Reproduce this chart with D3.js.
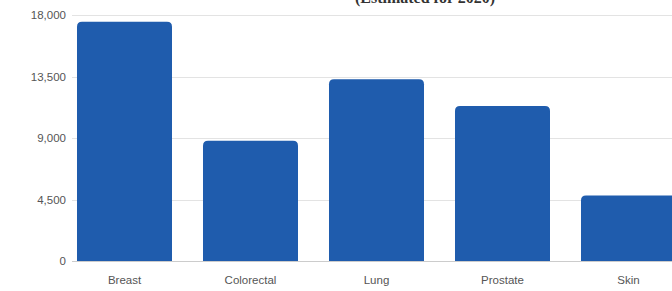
<!DOCTYPE html>
<html>
<head>
<meta charset="utf-8">
<script src="https://cdn.jsdelivr.net/npm/d3@7"></script>
<style>
body { margin: 0; background: #fff; overflow: hidden; }
text { font-family: "Liberation Sans", Arial, sans-serif; }
</style>
</head>
<body>
<script>
var categories = ["Breast", "Colorectal", "Lung", "Prostate", "Skin"];
var values = [17500, 8800, 13300, 11350, 4800];
var yTicks = [0, 4500, 9000, 13500, 18000];
var title = "(Estimated for 2020)";

var width = 672, height = 291;

var svg = d3.select("body").append("svg")
	.attr("width", width)
	.attr("height", height);

var x = d3.scaleBand()
	.domain(categories)
	.range([61.5, 691.5])
	.paddingInner(0.246)
	.paddingOuter(0.123);

var y = d3.scaleLinear()
	.domain([0, 18000])
	.range([261, 15]);

// titolo tagliato in alto, come nell'originale
svg.append("text")
	.attr("x", 425)
	.attr("y", 3)
	.attr("text-anchor", "middle")
	.attr("font-size", 16)
	.attr("font-weight", "bold")
	.style("font-family", "Liberation Serif, serif")
	.attr("fill", "#333")
	.text(title);

// griglia
svg.append("g")
	.selectAll("line")
	.data(yTicks)
	.enter()
	.append("line")
	.attr("x1", 72)
	.attr("x2", width)
	.attr("y1", function (d) { return Math.round(y(d)) + 0.5; })
	.attr("y2", function (d) { return Math.round(y(d)) + 0.5; })
	.attr("stroke", function (d) { return d === 0 ? "#ccc" : "#e3e3e3"; })
	.attr("stroke-width", 1);

// asse y
var yAxis = svg.append("g")
	.attr("transform", "translate(66,0)")
	.call(d3.axisLeft(y).tickValues(yTicks).tickSize(0).tickPadding(0).tickFormat(d3.format(",")));
yAxis.select(".domain").remove();
yAxis.selectAll("text")
	.attr("font-size", 11.5)
	.attr("fill", "#555");

// barre con angoli arrotondati in alto
function barPath(d, i) {
	var x0 = x(categories[i]), w = x.bandwidth();
	var y0 = y(d), y1 = y(0), r = 5;
	return "M" + x0 + "," + y1 +
		"V" + (y0 + r) +
		"Q" + x0 + "," + y0 + " " + (x0 + r) + "," + y0 +
		"H" + (x0 + w - r) +
		"Q" + (x0 + w) + "," + y0 + " " + (x0 + w) + "," + (y0 + r) +
		"V" + y1 + "Z";
}

svg.append("g")
	.selectAll("path")
	.data(values)
	.enter()
	.append("path")
	.attr("d", barPath)
	.attr("fill", "#1f5cad");

// asse x
var xAxis = svg.append("g")
	.attr("transform", "translate(0,261)")
	.call(d3.axisBottom(x).tickSize(0).tickPadding(15));
xAxis.select(".domain").remove();
xAxis.selectAll("text")
	.attr("font-size", 11.5)
	.attr("fill", "#555");
</script>
</body>
</html>
